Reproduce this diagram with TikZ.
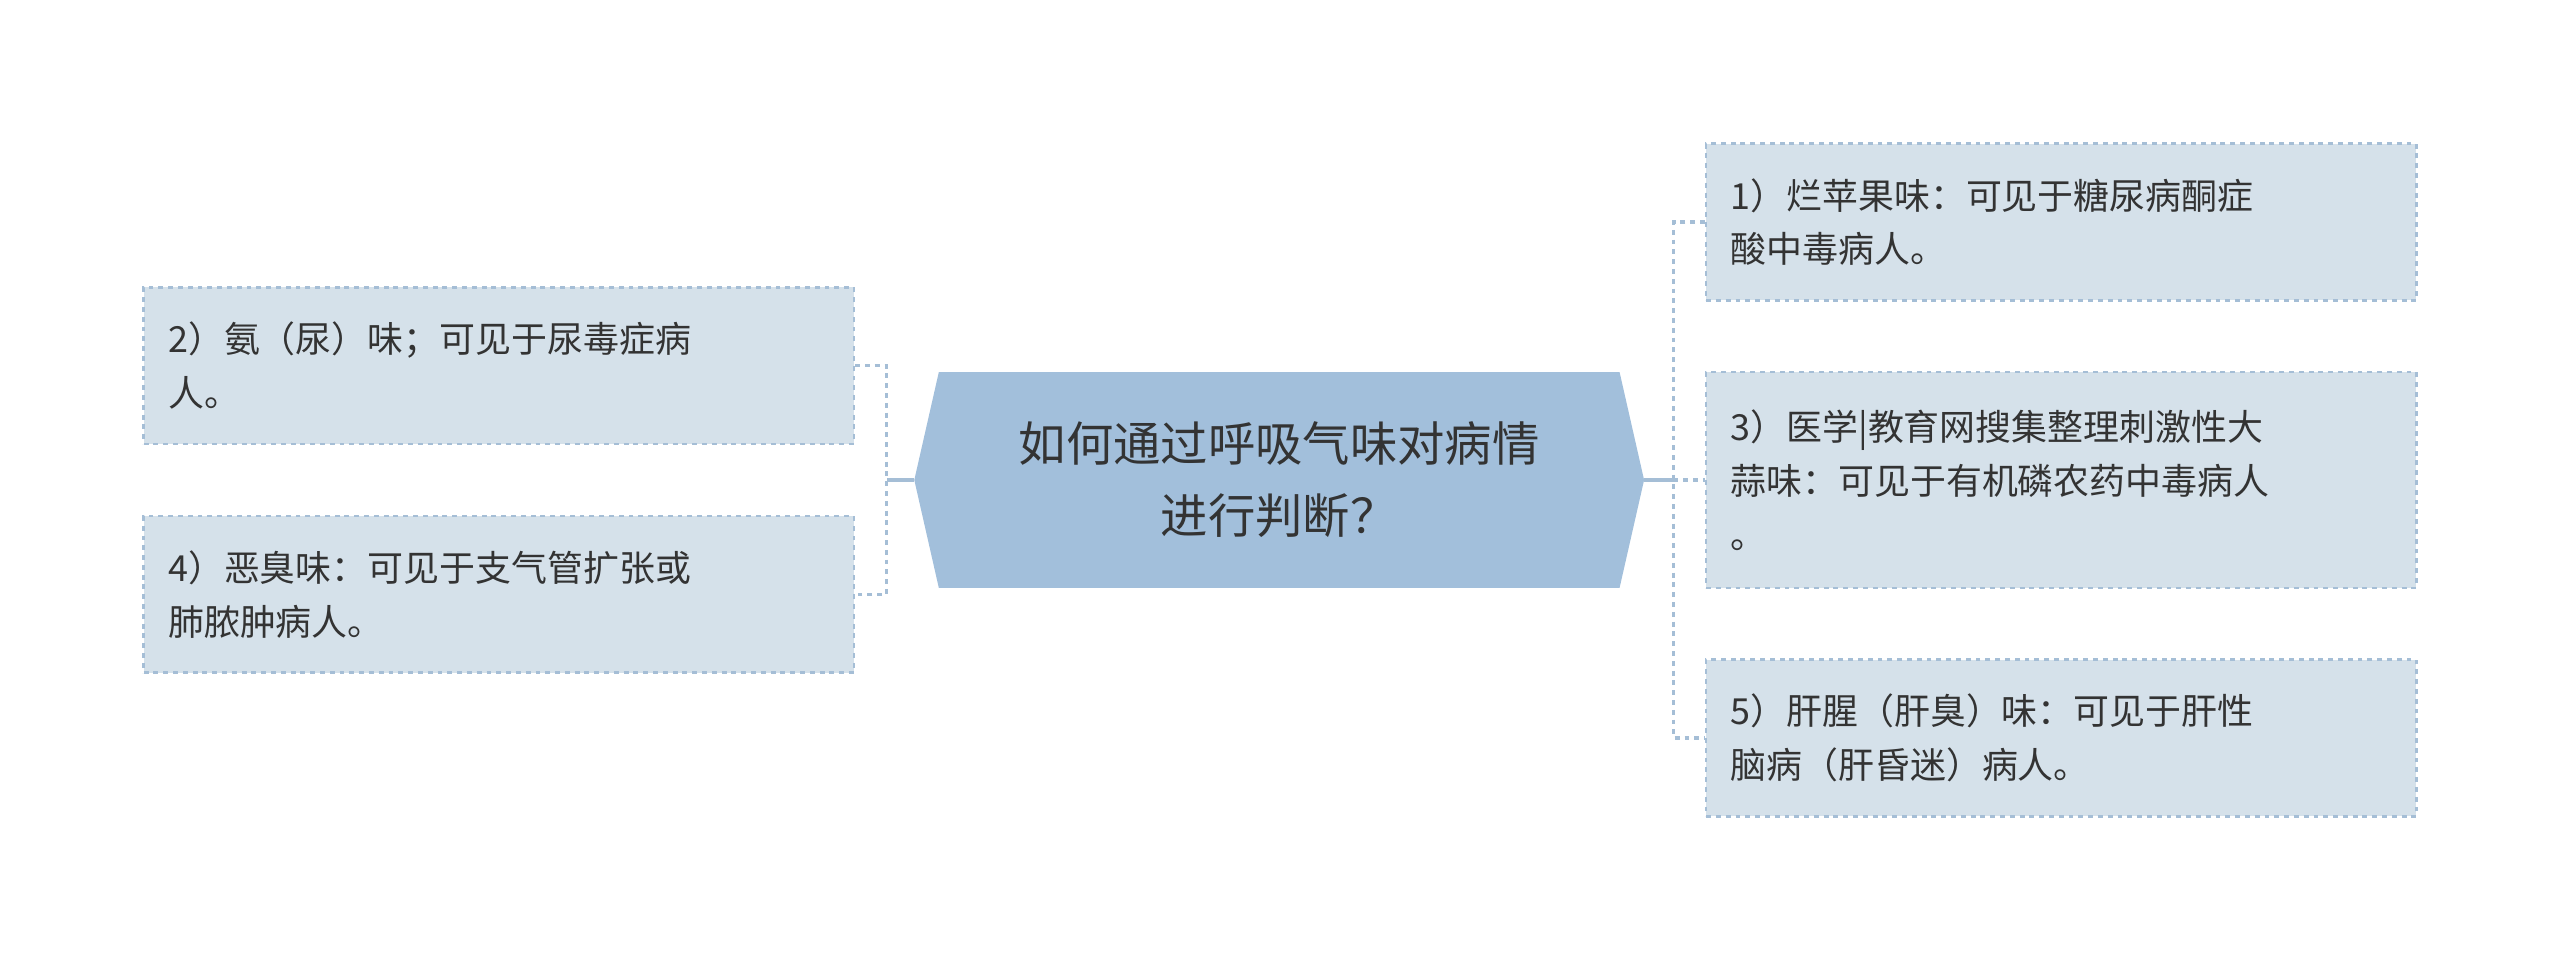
\documentclass[tikz,border=0pt]{standalone}
\usepackage{fontspec}
\newfontfamily\cjk{Noto Sans CJK SC}
\begin{document}
\begin{tikzpicture}[x=1pt,y=1pt,
  leaf/.style={draw=lineblue,dashed,line width=1.5pt,fill=boxfill,minimum width=435pt,minimum height=96pt,text width=405pt,align=left,inner sep=0pt,font=\cjk\fontsize{22}{33}\selectfont,text=txt},
  conn/.style={draw=lineblue,line width=2pt},
  dconn/.style={draw=lineblue,dashed,line width=2pt}]
\definecolor{lineblue}{HTML}{A5BED6}
\definecolor{boxfill}{HTML}{D5E1EA}
\definecolor{centerfill}{HTML}{A2BFDB}
\definecolor{txt}{HTML}{333333}
\useasboundingbox (0,0) rectangle (1568,-588);
\fill[centerfill] (560,-294) -- (575,-228) -- (992,-228) -- (1007,-294) -- (992,-360) -- (575,-360) -- cycle;
\node[text width=420pt,align=center,font=\cjk\fontsize{29}{44}\selectfont,text=txt] (c) at (783.5,-294) {如何通过呼吸气味对病情\\进行判断？};
\coordinate (cl) at (560,-294);
\coordinate (cr) at (1007,-294);
\node[leaf] (l1) at (305.5,-224) {2）氨（尿）味；可见于尿毒症病\\人。};
\node[leaf] (l2) at (305.5,-364) {4）恶臭味：可见于支气管扩张或\\肺脓肿病人。};
\node[leaf] (r1) at (1262.5,-136) {1）烂苹果味：可见于糖尿病酮症\\酸中毒病人。};
\node[leaf,minimum height=132pt] (r2) at (1262.5,-294) {3）医学|教育网搜集整理刺激性大\\蒜味：可见于有机磷农药中毒病人\\。};
\node[leaf] (r3) at (1262.5,-452) {5）肝腥（肝臭）味：可见于肝性\\脑病（肝昏迷）病人。};
\coordinate (lj) at (543,-294);
\coordinate (rj) at (1025,-294);
\draw[conn] (cl) -- (lj);
\draw[conn] (cr) -- (rj);
\draw[dconn] (l1.east) -- (l1.east -| lj) -- (l2.east -| lj) -- (l2.east);
\draw[dconn] (r1.west) -- (r1.west -| rj) -- (r3.west -| rj) -- (r3.west);
\draw[dconn] (rj) -- (r2.west);
\end{tikzpicture}
\end{document}
